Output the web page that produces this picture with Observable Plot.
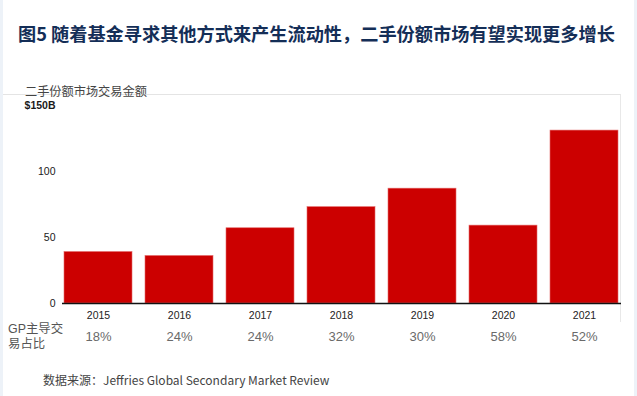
<!DOCTYPE html>
<html>
<head>
<meta charset="utf-8">
<script src="https://cdn.jsdelivr.net/npm/d3@7"></script>
<script src="https://cdn.jsdelivr.net/npm/@observablehq/plot@0.6"></script>
<style>
  html, body { margin: 0; padding: 0; background: #ffffff; }
  #page { position: relative; width: 637px; height: 396px; overflow: hidden; background: #ffffff;
          font-family: "Noto Sans CJK SC", "Noto Sans", sans-serif; }
  #lstrip { position: absolute; left: 0; top: 0; width: 3px; height: 396px; background: #edf2f8; }
  #rstrip { position: absolute; left: 634px; top: 0; width: 3px; height: 396px; background: #edf2f8; }
  #frame { position: absolute; left: 3px; top: 94px; width: 618px; height: 228px;
           border-top: 1px solid #e4e4e4; border-right: 1px solid #e8e8e8; box-sizing: border-box; }
  #title { position: absolute; left: 18px; top: 24px; font-size: 18.2px; line-height: 18px; font-weight: 700;
           color: #142e57; white-space: nowrap; }
  #ylabel { position: absolute; left: 25px; top: 85px; font-size: 12.2px; line-height: 13px; color: #444; white-space: nowrap; }
  #chart { position: absolute; left: 0; top: 80px; }
  .rowlabel { position: absolute; left: 8px; font-family: "Liberation Sans", "Noto Sans CJK SC", sans-serif;
              font-size: 12.4px; line-height: 13px; color: #555; white-space: nowrap; }
  #source { position: absolute; left: 43px; top: 373px; font-size: 12px; line-height: 13px; color: #444; white-space: nowrap; }
  #chart svg text { font-family: "Liberation Sans", Arial, sans-serif; }
</style>
</head>
<body>
<div id="page">
  <div id="lstrip"></div>
  <div id="rstrip"></div>
  <div id="frame"></div>
  <div id="title">图5 随着基金寻求其他方式来产生流动性，二手份额市场有望实现更多增长</div>
  <div id="ylabel">二手份额市场交易金额</div>
  <div id="chart"></div>
  <div class="rowlabel" style="top:323px">GP主导交</div>
  <div class="rowlabel" style="top:338px">易占比</div>
  <div id="source">数据来源：Jeffries Global Secondary Market Review</div>
</div>
<script>
const years = ["2015", "2016", "2017", "2018", "2019", "2020", "2021"];
const volumes = [39, 36, 57, 73, 87, 59, 131];
const gpShares = ["18%", "24%", "24%", "32%", "30%", "58%", "52%"];
const yTicks = [0, 50, 100, 150];

const data = years.map((y, i) => ({year: y, value: volumes[i], share: gpShares[i]}));

const plot = Plot.plot({
  width: 637,
  height: 280,
  marginLeft: 62,
  marginRight: 16,
  marginTop: 25,
  marginBottom: 57,
  style: {background: "transparent", fontSize: "10.5px", color: "#222"},
  x: {domain: years, paddingInner: 0.16, paddingOuter: 0, label: null},
  y: {domain: [0, 150], label: null},
  marks: [
    Plot.barY(data, {x: "year", y: "value", fill: "#cc0000", stroke: "#e46a6a", strokeWidth: 0.6}),
    Plot.ruleY([0], {stroke: "#111", strokeWidth: 1.6}),
    Plot.axisY({ticks: yTicks, tickSize: 0, tickPadding: 7, label: null,
      tickFormat: d => d === 150 ? "$150B" : String(d), fill: "#1a1a1a"}),
    Plot.axisX({tickSize: 0, tickPadding: 8, label: null, fill: "#222"}),
    Plot.text(data, {x: "year", text: "share", frameAnchor: "bottom", dy: 37,
      fontSize: 13, fill: "#6a6a6a", fontFamily: "Noto Sans CJK SC", fontWeight: 300})
  ]
});
document.getElementById("chart").appendChild(plot);
// bold the top "$150B" tick label
plot.querySelectorAll("text").forEach(t => { if (t.textContent === "$150B") t.setAttribute("font-weight", "bold"); });
</script>
</body>
</html>
